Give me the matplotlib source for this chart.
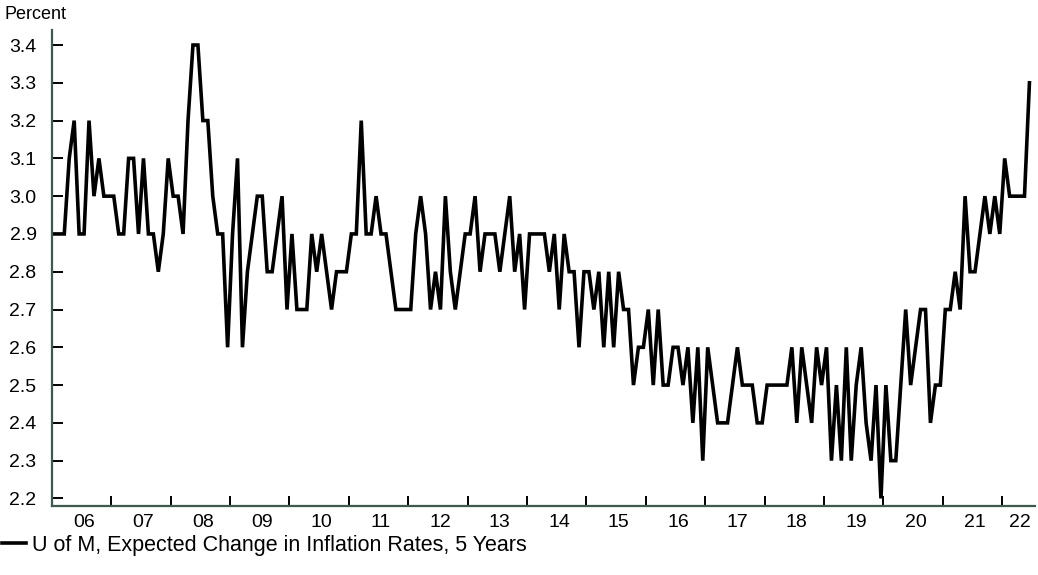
import numpy as np
import matplotlib
matplotlib.use("Agg")
import matplotlib.pyplot as plt

# U of M expected change in inflation rates, 5 years (monthly, Jan 2006 - Jun 2022)
start_year = 2006
values = [
    2.9, 2.9, 2.9, 3.1, 3.2, 2.9, 2.9, 3.2, 3.0, 3.1, 3.0, 3.0,  # 2006
    3.0, 2.9, 2.9, 3.1, 3.1, 2.9, 3.1, 2.9, 2.9, 2.8, 2.9, 3.1,  # 2007
    3.0, 3.0, 2.9, 3.2, 3.4, 3.4, 3.2, 3.2, 3.0, 2.9, 2.9, 2.6,  # 2008
    2.9, 3.1, 2.6, 2.8, 2.9, 3.0, 3.0, 2.8, 2.8, 2.9, 3.0, 2.7,  # 2009
    2.9, 2.7, 2.7, 2.7, 2.9, 2.8, 2.9, 2.8, 2.7, 2.8, 2.8, 2.8,  # 2010
    2.9, 2.9, 3.2, 2.9, 2.9, 3.0, 2.9, 2.9, 2.8, 2.7, 2.7, 2.7,  # 2011
    2.7, 2.9, 3.0, 2.9, 2.7, 2.8, 2.7, 3.0, 2.8, 2.7, 2.8, 2.9,  # 2012
    2.9, 3.0, 2.8, 2.9, 2.9, 2.9, 2.8, 2.9, 3.0, 2.8, 2.9, 2.7,  # 2013
    2.9, 2.9, 2.9, 2.9, 2.8, 2.9, 2.7, 2.9, 2.8, 2.8, 2.6, 2.8,  # 2014
    2.8, 2.7, 2.8, 2.6, 2.8, 2.6, 2.8, 2.7, 2.7, 2.5, 2.6, 2.6,  # 2015
    2.7, 2.5, 2.7, 2.5, 2.5, 2.6, 2.6, 2.5, 2.6, 2.4, 2.6, 2.3,  # 2016
    2.6, 2.5, 2.4, 2.4, 2.4, 2.5, 2.6, 2.5, 2.5, 2.5, 2.4, 2.4,  # 2017
    2.5, 2.5, 2.5, 2.5, 2.5, 2.6, 2.4, 2.6, 2.5, 2.4, 2.6, 2.5,  # 2018
    2.6, 2.3, 2.5, 2.3, 2.6, 2.3, 2.5, 2.6, 2.4, 2.3, 2.5, 2.2,  # 2019
    2.5, 2.3, 2.3, 2.5, 2.7, 2.5, 2.6, 2.7, 2.7, 2.4, 2.5, 2.5,  # 2020
    2.7, 2.7, 2.8, 2.7, 3.0, 2.8, 2.8, 2.9, 3.0, 2.9, 3.0, 2.9,  # 2021
    3.1, 3.0, 3.0, 3.0, 3.0, 3.3,                                # 2022
]
years = list(range(2006, 2023))
year_labels = [f"{y % 100:02d}" for y in years]
y_ticks = [2.2, 2.3, 2.4, 2.5, 2.6, 2.7, 2.8, 2.9, 3.0, 3.1, 3.2, 3.3, 3.4]
series_label = "U of M, Expected Change in Inflation Rates, 5 Years"

plt.rcParams['font.family'] = ['Liberation Sans', 'DejaVu Sans']

# monthly points at mid-month, in fractional years
t = start_year + (np.arange(len(values)) + 0.5) / 12.0

fig = plt.figure(figsize=(10.38, 5.75), dpi=100)
ax = fig.add_axes([0.050, 0.120, 0.947, 0.828])

ax.plot(t, values, color="black", linewidth=2.6, label=series_label,
        solid_joinstyle="miter")

x_right = 2022.55
ax.set_xlim(2006.0, x_right)
ax.set_ylim(2.18, 3.44)

# year boundary ticks, labels centred in each year
ax.set_xticks(years[1:])
ax.set_xticklabels([])
label_pos = [y + 0.54 for y in years[:-1]] + [(years[-1] + x_right) / 2 + 0.02]
ax.set_xticks(label_pos, minor=True)
ax.set_xticklabels(year_labels, minor=True)
ax.tick_params(axis="x", which="major", direction="in", length=7, width=1.4,
               color="black")
ax.tick_params(axis="x", which="minor", length=0, pad=6, labelsize=14)

ax.set_yticks(y_ticks)
ax.set_yticklabels([f"{v:.1f}" for v in y_ticks])
ax.tick_params(axis="y", direction="in", length=8, width=1.4, color="black",
               pad=11, labelsize=14)

for side in ["top", "right"]:
    ax.spines[side].set_visible(False)
for side in ["left", "bottom"]:
    ax.spines[side].set_color("#3d5a4c")
    ax.spines[side].set_linewidth(1.6)

fig.text(0.004, 0.974, "Percent", fontsize=13, ha="left", va="center")

fig.legend(loc="center left", bbox_to_anchor=(0.002, 0.052), frameon=False,
           fontsize=15.5, handlelength=1.1, handletextpad=0.3,
           borderaxespad=0, borderpad=0)

fig.savefig("out.png", dpi=100)
